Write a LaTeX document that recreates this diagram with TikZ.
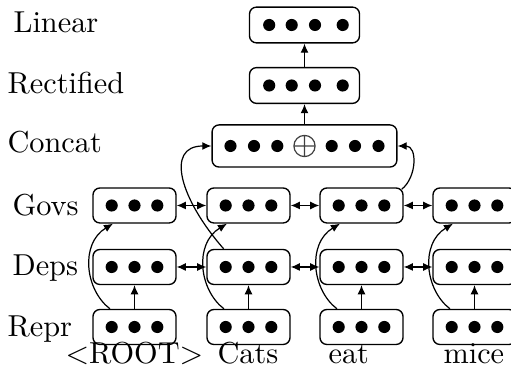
\documentclass[tikz,border=0pt]{standalone}
\usetikzlibrary{arrows.meta}
\begin{document}
\begin{tikzpicture}[x=0.33pt,y=-0.33pt,
  vbox/.style={draw, line width=0.45pt, rounded corners=2.3pt, minimum width=27.4pt, minimum height=11.55pt, inner sep=0pt},
  lbl/.style={anchor=base west, inner sep=0pt, font=\fontsize{10}{12}\selectfont},
  arr/.style={-{Latex[length=3pt,width=2.6pt]}, line width=0.4pt},
  darr/.style={{Latex[length=3pt,width=2.6pt]}-{Latex[length=3pt,width=2.6pt]}, line width=0.4pt},
  dot/.style={fill=black}
]
\useasboundingbox (0,0) rectangle (511,370);

% row labels
\node[lbl] (tLin) at (13,33) {Linear};
\node[lbl] (tRec) at (7,94) {Rectified};
\node[lbl] (tCon) at (7,153) {Concat};
\node[lbl] (tGov) at (12,216) {Govs};
\node[lbl] (tDep) at (12,276) {Deps};
\node[lbl] (tRep) at (7,337) {Repr};

% word labels
\node[lbl] (wR) at (65,364) {$<$ROOT$>$};
\node[lbl] (wC) at (217,364) {Cats};
\node[lbl] (wE) at (328,364) {eat};
\node[lbl] (wM) at (443,364) {mice};

% column boxes
\foreach \n/\cx in {r/134.5, c/248.5, e/361.5, m/474.5} {
  \foreach \row/\cy in {R/327, D/267, G/205.5} {
    \node[vbox] (\n\row) at (\cx,\cy) {};
    \foreach \o in {-22.8,0,22.8} \fill[dot] ({\cx+\o},\cy) circle[radius=2pt];
  }
}

% top boxes
\node[vbox, minimum width=61pt, minimum height=13.9pt] (concat) at (304.5,146) {};
\foreach \o in {-74,-50.5,-27.2,27.2,50.5,74} \fill[dot] ({304.5+\o},146) circle[radius=2pt];
\draw[black!75, line width=0.4pt] (304.5,146) circle[radius=3.5pt]
  (293.9,146) -- (315.1,146) (304.5,135.4) -- (304.5,156.6);

\node[vbox, minimum width=36.3pt, minimum height=11.8pt] (rect) at (304.5,85.5) {};
\node[vbox, minimum width=36.3pt, minimum height=11.8pt] (lin) at (304.5,25) {};
\foreach \o in {-35.3,-12.8,10.5,38.2} {
  \fill[dot] ({304.5+\o},85.5) circle[radius=2pt];
  \fill[dot] ({304.5+\o},25) circle[radius=2pt];
}

% vertical and curved arrows in columns
\foreach \n in {r,c,e,m} {
  \draw[arr] (\n R) -- (\n D);
  \draw[arr] ([xshift=-8.1pt]\n R.north) .. controls +(-25,-19) and +(-33,20) .. ([xshift=-7.1pt]\n G.south);
}

% horizontal double arrows
\foreach \a/\b in {r/c, c/e, e/m} {
  \draw[darr] (\a G) -- (\b G);
  \draw[darr] (\a D) -- (\b D);
}

% to concat
\draw[arr] ([xshift=-8.2pt]cD.north) .. controls +(-43,-49) and +(-47,0) .. (concat.west);
\draw[arr] ([xshift=-0.6pt,yshift=-0.6pt]eG.north east) .. controls +(15,-12) and +(20,0) .. (concat.east);

\draw[arr] (concat) -- (rect);
\draw[arr] (rect) -- (lin);
\end{tikzpicture}
\end{document}
